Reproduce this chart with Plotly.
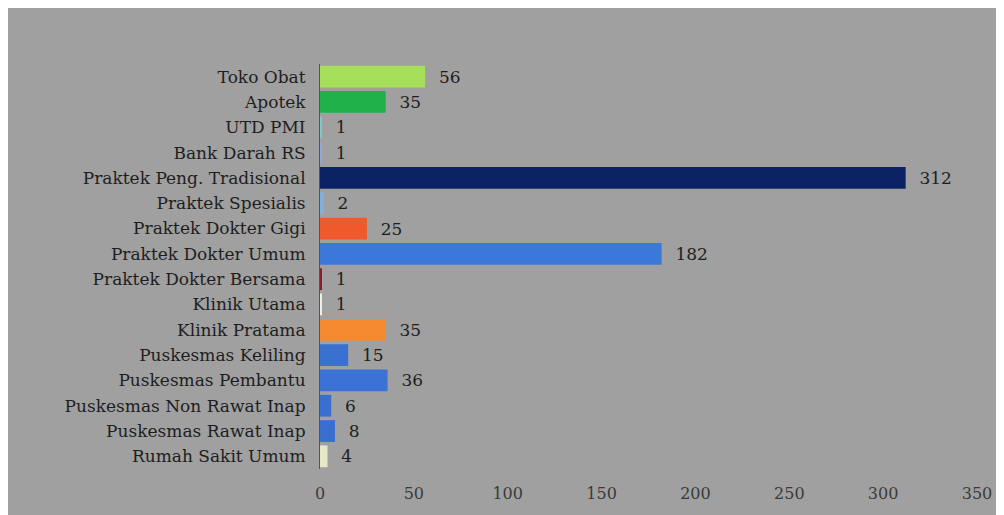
import plotly.graph_objects as go

categories = ["Toko Obat", "Apotek", "UTD PMI", "Bank Darah RS", "Praktek Peng. Tradisional",
              "Praktek Spesialis", "Praktek Dokter Gigi", "Praktek Dokter Umum",
              "Praktek Dokter Bersama", "Klinik Utama", "Klinik Pratama", "Puskesmas Keliling",
              "Puskesmas Pembantu", "Puskesmas Non Rawat Inap", "Puskesmas Rawat Inap",
              "Rumah Sakit Umum"]
values = [56, 35, 1, 1, 312, 2, 25, 182, 1, 1, 35, 15, 36, 6, 8, 4]
bar_colors = ["#a6e05a", "#21b14b", "#7fc8c8", "#8fa8d8", "#0b2265", "#7fb0e0", "#f0592b",
              "#3c78d8", "#8b1c2c", "#f0f0e0", "#f5892f", "#3a70d0", "#3b72d4", "#3a6fd0",
              "#3a6fd0", "#e8e8c8"]
x_ticks = [0, 50, 100, 150, 200, 250, 300, 350]

BG = "#a0a0a0"
FONT = "DejaVu Serif"
fig = go.Figure(go.Bar(
    x=values, y=categories, orientation="h",
    marker=dict(color=bar_colors, line=dict(width=0)),
    width=0.86,
    texttemplate="\u00a0\u00a0%{x}", textposition="outside",
    textfont=dict(family=FONT, size=17, color="#1e1e1e"),
    cliponaxis=False,
))

fig.update_layout(
    width=996, height=507,
    margin=dict(l=312, r=21, t=56, b=41, pad=0),
    paper_bgcolor=BG, plot_bgcolor=BG,
    showlegend=False,
    font=dict(family=FONT, size=17, color="#1e1e1e"),
    xaxis=dict(range=[0, 350], tickvals=x_ticks, showgrid=False, zeroline=False,
               showline=False, ticks="outside", ticklen=10, tickcolor=BG,
               tickfont=dict(family=FONT, size=16, color="#3a3a3a")),
    yaxis=dict(categoryorder="array", categoryarray=categories, autorange="reversed",
               showgrid=False, zeroline=False, showline=True, linecolor="#555555",
               linewidth=1, ticks="outside", ticklen=10, tickcolor=BG,
               tickfont=dict(family=FONT, size=17, color="#1e1e1e")),
)

fig.write_html("out.html")
